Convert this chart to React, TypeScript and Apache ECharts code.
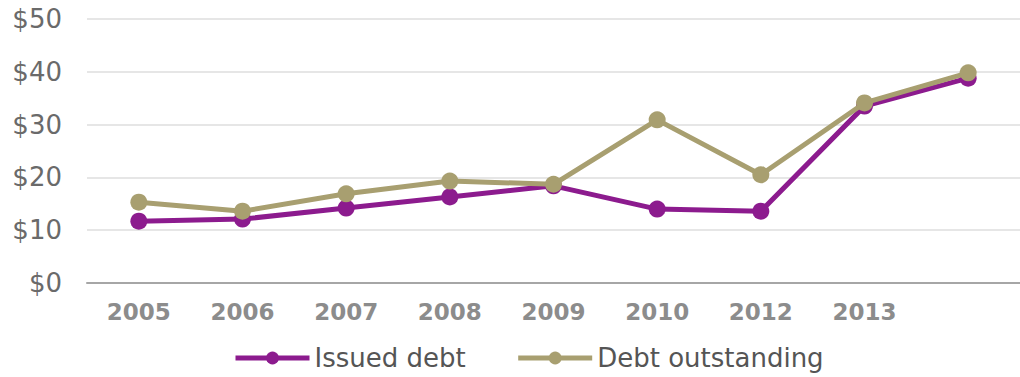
import React, { useEffect, useRef } from "react";
import * as echarts from "echarts";

const categories = ["2005", "2006", "2007", "2008", "2009", "2010", "2012", "2013", ""];
const issuedDebt = [11.7, 12.1, 14.2, 16.3, 18.4, 14.0, 13.6, 33.5, 38.8];
const debtOutstanding = [15.3, 13.6, 16.9, 19.3, 18.7, 30.9, 20.5, 34.1, 39.8];
const yTicks = { min: 0, max: 50, interval: 10 };

const PURPLE = "#8c1b8e";
const TAN = "#a89f70";

export default function App() {
  const ref = useRef<HTMLDivElement>(null);
  useEffect(() => {
    if (!ref.current) return;
    const chart = echarts.init(ref.current, undefined, { renderer: "svg" });
    chart.setOption({
      animation: false,
      backgroundColor: "#ffffff",
      grid: { left: 87, right: -7, top: 19, bottom: 94, containLabel: false },
      xAxis: {
        type: "category",
        data: categories,
        boundaryGap: true,
        axisTick: { show: false },
        axisLine: { show: true, lineStyle: { color: "#a6a6a6", width: 2 } },
        axisLabel: {
          margin: 17,
          color: "#8c8c8c",
          fontFamily: "DejaVu Sans",
          fontWeight: "bold",
          fontSize: 23,
          interval: 0,
        },
      },
      yAxis: {
        type: "value",
        min: yTicks.min,
        max: yTicks.max,
        interval: yTicks.interval,
        axisLine: { show: false },
        axisTick: { show: false },
        splitLine: { lineStyle: { color: "#e6e6e6", width: 2 } },
        axisLabel: {
          margin: 25,
          color: "#6a6a6a",
          fontFamily: "DejaVu Sans",
          fontSize: 26,
          formatter: "${value}",
        },
      },
      legend: {
        left: 228,
        top: 340,
        itemWidth: 74,
        itemHeight: 16,
        itemGap: 50,
        lineStyle: { width: 5 },
        textStyle: { color: "#555555", fontFamily: "DejaVu Sans", fontSize: 26, padding: [0, 0, 0, 0] },
        data: ["Issued debt", "Debt outstanding"],
      },
      series: [
        {
          name: "Issued debt",
          type: "line",
          data: issuedDebt,
          symbol: "circle",
          symbolSize: 17,
          lineStyle: { color: PURPLE, width: 5 },
          itemStyle: { color: PURPLE },
          z: 2,
        },
        {
          name: "Debt outstanding",
          type: "line",
          data: debtOutstanding,
          symbol: "circle",
          symbolSize: 17,
          lineStyle: { color: TAN, width: 5 },
          itemStyle: { color: TAN },
          z: 3,
        },
      ],
    });
    return () => chart.dispose();
  }, []);
  return (
    <div
      ref={ref}
      style={{ position: "fixed", left: 0, top: 0, width: 1020, height: 377 }}
    />
  );
}
